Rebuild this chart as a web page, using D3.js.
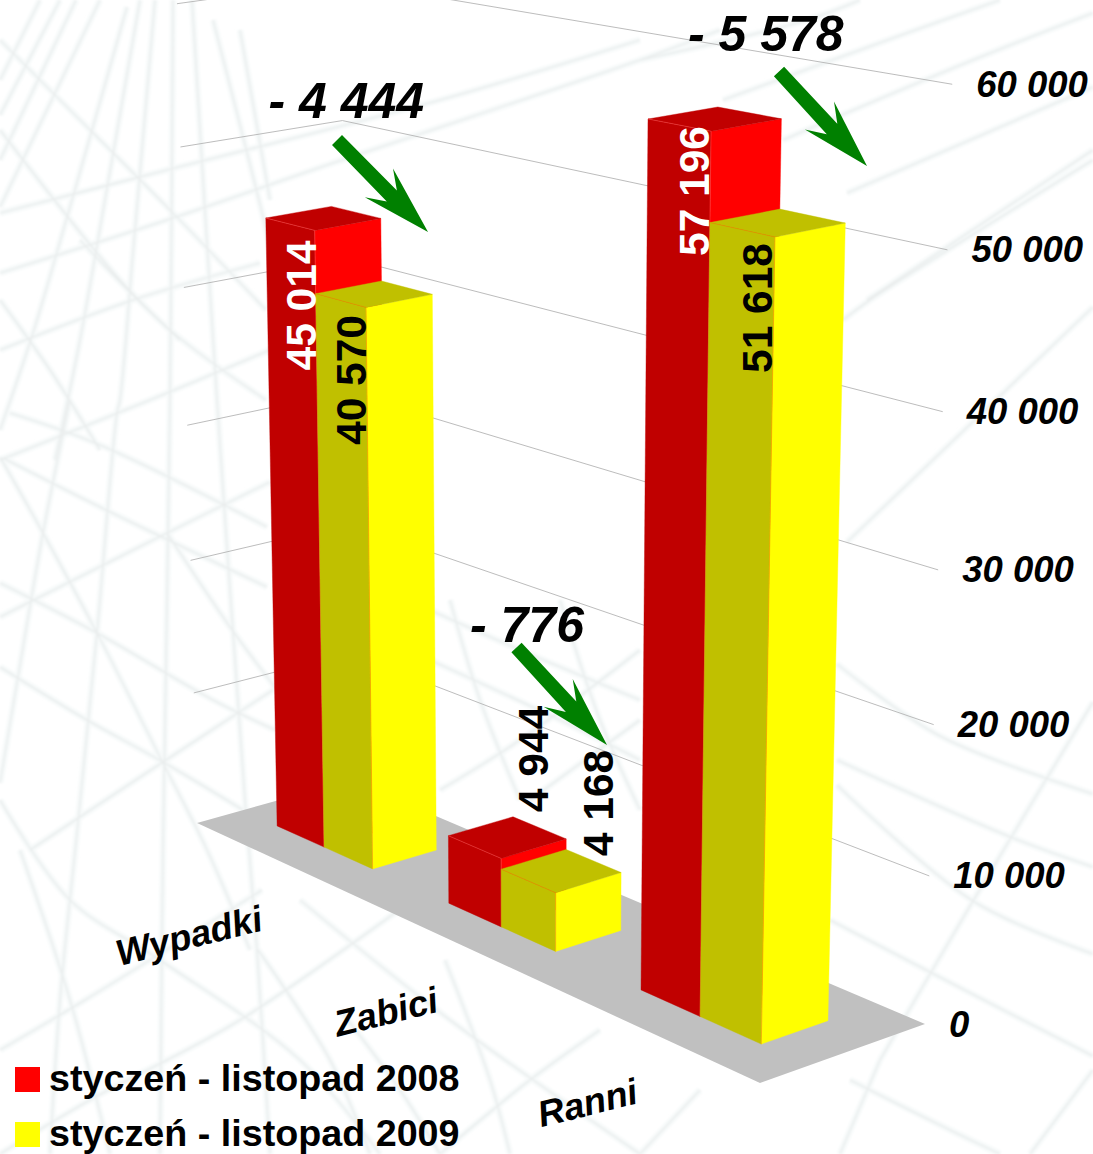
<!DOCTYPE html>
<html><head><meta charset="utf-8">
<script src="https://cdn.jsdelivr.net/npm/d3@7"></script>
<style>html,body{margin:0;padding:0;background:#fff}svg{display:block}text{font-family:"Liberation Sans",Arial,sans-serif;font-weight:bold}</style>
</head><body><svg id="c" width="1093" height="1154"></svg>
<script>
const categories = ["Wypadki","Zabici","Ranni"];
const seriesNames = ["styczeń - listopad 2008","styczeń - listopad 2009"];
const values2008 = [45014,4944,57196];
const values2009 = [40570,4168,51618];
const axisTicks = [0,10000,20000,30000,40000,50000,60000];
const seriesColors = [{side:"#ff0000",front:"#c00000",edge:"#ff5050"},{side:"#ffff00",front:"#c0c000",edge:"#f08000"}];
const valueLabelColors = [["#fff","#000","#fff"],["#000","#000","#000"]];

// Background pattern strokes (decoration)
const bgStrokes = [
[[155,0],[133,253],[120,400],[117,413],[97,633],[77,833],[60,1000],[50,1154]],
[[173,0],[170,400],[163,850],[160,1154]],
[[192,0],[217,400],[245,800],[257,950],[270,1154]],
[[213,20],[267,233],[310,420]],
[[240,30],[270,200]],
[[100,0],[0,207]],[[76,0],[0,160]],[[40,0],[0,80]],[[60,0],[0,115]],
[[127,7],[70,207],[33,333],[0,430]],
[[140,0],[105,200],[80,340],[55,460]],
[[70,400],[43,533],[17,683],[0,783]],
[[0,213],[167,170],[440,100],[640,40]],
[[0,273],[167,220],[333,163],[640,60],[720,30]],
[[0,350],[133,300],[260,263]],
[[0,460],[150,400],[270,350]],
[[0,617],[167,533],[270,482]],
[[30,850],[163,762],[273,690]],
[[3,458],[100,507],[267,587]],
[[10,413],[100,445],[267,527]],
[[0,583],[97,633],[213,700],[275,730]],
[[0,667],[87,720],[163,762],[243,810]],
[[0,457],[43,533],[97,633],[163,763],[207,850],[250,950]],
[[167,533],[230,627],[277,690]],
[[0,40],[60,100],[170,210],[266,310]],
[[0,130],[120,280],[180,340]],
[[0,300],[50,370],[100,450]],
[[80,240],[170,330],[266,400]],
[[0,800],[70,900],[160,960],[300,1060],[380,1154]],
[[0,1050],[85,1000],[262,890]],
[[0,1154],[90,1100],[240,1020],[440,880]],
[[20,850],[70,1000],[110,1154]],
[[258,950],[330,1060],[370,1154]],
[[300,900],[450,1020],[640,1154]],
[[445,960],[490,1080],[510,1154]],
[[340,1010],[400,1090],[440,1154]],
[[440,1154],[530,1080],[600,1030]],
[[640,1154],[700,1090]],
[[640,60],[807,20],[860,0]],
[[723,100],[907,33],[1000,0]],
[[783,140],[973,60],[1093,13]],
[[847,193],[1093,87]],
[[867,300],[1093,150]],
[[843,320],[870,300],[1093,160]],
[[847,542],[1093,307]],
[[880,1060],[973,901],[1093,702]],
[[837,664],[940,736],[1093,794]],
[[837,760],[1013,838],[1093,867]],
[[837,785],[973,901],[1093,954]],
[[830,920],[980,998],[1093,1056]],
[[850,1080],[950,1130],[1000,1154]],
[[840,1154],[880,1060]],
[[1030,1154],[1093,1070]],
[[430,610],[520,650],[640,700]],
[[430,660],[560,720],[640,760]],
[[450,600],[480,700],[520,800]],
[[530,800],[640,720]],
[[560,600],[600,720],[640,810]],
[[440,790],[520,740],[640,650]]
];

// Perspective camera: floor corners and vanishing terms
const anchorA = [197,823], anchorB = [760,1083], anchorC = [925,1024];
const gX = -0.16, gY = 0.027, gZ = -0.0563, liftU = -30, liftV = -819.5;
const aU = anchorB[0]*(1+gX)-anchorA[0], aV = anchorB[1]*(1+gX)-anchorA[1];
const bU = anchorC[0]*(1+gX+gY)-aU-anchorA[0], bV = anchorC[1]*(1+gX+gY)-aV-anchorA[1];

const zScale = d3.scaleLinear().domain([0,60000]).range([0,1]);
const catScale = d3.scaleBand().domain(categories).range([0,1]).paddingInner(0.43).paddingOuter(0.215);
const serScale = d3.scaleBand().domain([0,1]).range([0,catScale.bandwidth()]);
const depthFront = 0.29, depthBack = 0.695;

function proj(x,y,v){
  const z = zScale(v), w = 1+gX*x+gY*y+gZ*z;
  return [(anchorA[0]+aU*x+bU*y+liftU*z)/w,(anchorA[1]+aV*x+bV*y+liftV*z)/w];
}
const svg = d3.select("#c");
const line = d3.line().curve(d3.curveCatmullRom.alpha(0.5));
const polyPath = pts => "M"+pts.map(p=>p[0].toFixed(1)+","+p[1].toFixed(1)).join("L")+"Z";

const defs = svg.append("defs");
defs.append("filter").attr("id","soft").append("feGaussianBlur").attr("stdDeviation",0.8);
svg.append("rect").attr("width",1093).attr("height",1154).attr("fill","#fff");
const bg = svg.append("g").attr("filter","url(#soft)").attr("fill","none");
bg.selectAll("path.w").data(bgStrokes).join("path").attr("class","w").attr("d",line).attr("stroke","#f7fafa").attr("stroke-width",7);
bg.selectAll("path.l").data(bgStrokes).join("path").attr("class","l").attr("d",line).attr("stroke","#e9eded").attr("stroke-width",1.6);

// Walls' gridlines
const grid = svg.append("g").attr("stroke","#b4b4b4").attr("stroke-width",0.9).attr("fill","none");
grid.selectAll("path.left").data(axisTicks.slice(1)).join("path").attr("class","left")
  .attr("d",v=>"M"+proj(0,0,v)+"L"+proj(0,1,v));
grid.selectAll("path.back").data(axisTicks.slice(1)).join("path").attr("class","back")
  .attr("d",v=>"M"+proj(0,1,v)+"L"+proj(1,1,v));

// Floor
svg.append("path").attr("fill","#c0c0c0").attr("d",polyPath([proj(0,0,0),proj(1,0,0),proj(1,1,0),proj(0,1,0)]));

// Bars
const rows = [values2008,values2009];
const bars = [];
categories.forEach((cat,ci)=>rows.forEach((vals,si)=>bars.push({cat,ci,si,v:vals[ci]})));
const barG = svg.append("g");
bars.forEach(b=>{
  const x0 = catScale(b.cat)+serScale(b.si), x1 = x0+serScale.bandwidth();
  const y0 = depthFront, y1 = depthBack, col = seriesColors[b.si];
  const g = barG.append("g");
  const face = (pts,fill)=>g.append("path").attr("d",polyPath(pts)).attr("fill",fill).attr("stroke",fill).attr("stroke-width",0.4);
  face([proj(x0,y0,0),proj(x1,y0,0),proj(x1,y0,b.v),proj(x0,y0,b.v)],col.front);
  face([proj(x1,y0,0),proj(x1,y1,0),proj(x1,y1,b.v),proj(x1,y0,b.v)],col.side);
  face([proj(x0,y0,b.v),proj(x1,y0,b.v),proj(x1,y1,b.v),proj(x0,y1,b.v)],col.front);
  g.append("path").attr("fill","none").attr("stroke",col.edge).attr("stroke-width",0.7).attr("opacity",0.7)
    .attr("d","M"+proj(x0,y0,b.v)+"L"+proj(x1,y0,b.v)+"L"+proj(x1,y0,0));
});

// Axis labels
const fmt = d3.formatLocale({decimal:",",thousands:" ",grouping:[3],currency:["",""]}).format(",d");
svg.append("g").selectAll("text").data(axisTicks).join("text")
  .attr("x",v=>proj(1,1,v)[0]+24).attr("y",v=>proj(1,1,v)[1]+12.5)
  .attr("font-size",36.5).attr("font-style","italic").attr("fill","#000").text(fmt);

// Value labels
const valuePos = [[[316,305.5],[366,380]],[[548,759],[613,803]],[[709,191],[772,308]]];
bars.forEach(b=>{
  const p = valuePos[b.ci][b.si];
  svg.append("text").attr("transform",`translate(${p[0]},${p[1]}) rotate(-90)`)
    .attr("text-anchor","middle").attr("font-size",42.5)
    .attr("fill",valueLabelColors[b.si][b.ci]).text(fmt(b.v));
});

// Category labels
const catPos = [[192,948],[389,1024],[590.5,1115]];
svg.append("g").selectAll("text").data(categories).join("text")
  .attr("transform",(d,i)=>`translate(${catPos[i][0]},${catPos[i][1]}) rotate(-14)`)
  .attr("text-anchor","middle").attr("font-size",36.5).attr("font-style","italic").attr("fill","#000").text(d=>d);

// Difference annotations
const arrowProfile = [[0,-7],[77.8,-7.1],[59.4,-19.8],[129,0],[60,20.5],[78.5,7.8],[0,7]];
const annot = [
  {text:[268.5,118],tail:[337,140],tip:[428,232]},
  {text:[470,642],tail:[516.5,647.5],tip:[607,745]},
  {text:[688,51],tail:[779,71.5],tip:[867,166]}
];
annot.forEach((a,i)=>{
  const dx=a.tip[0]-a.tail[0], dy=a.tip[1]-a.tail[1], L=Math.hypot(dx,dy), ux=dx/L, uy=dy/L;
  const pts = arrowProfile.map(([s,t])=>{const q=s*L/129;return [a.tail[0]+ux*q-uy*t,a.tail[1]+uy*q+ux*t];});
  svg.append("path").attr("d",polyPath(pts)).attr("fill","#008000");
  svg.append("text").attr("x",a.text[0]).attr("y",a.text[1]).attr("font-size",50).attr("font-style","italic")
    .attr("fill","#000").text("- "+fmt(values2008[i]-values2009[i]));
});

// Legend
const legend = svg.append("g");
seriesNames.forEach((n,i)=>{
  const y = 1067+55*i;
  legend.append("rect").attr("x",15).attr("y",y).attr("width",25).attr("height",25).attr("fill",seriesColors[i].side);
  legend.append("text").attr("x",49).attr("y",y+24).attr("font-size",37.7).attr("fill","#000").text(n);
});
</script></body></html>
